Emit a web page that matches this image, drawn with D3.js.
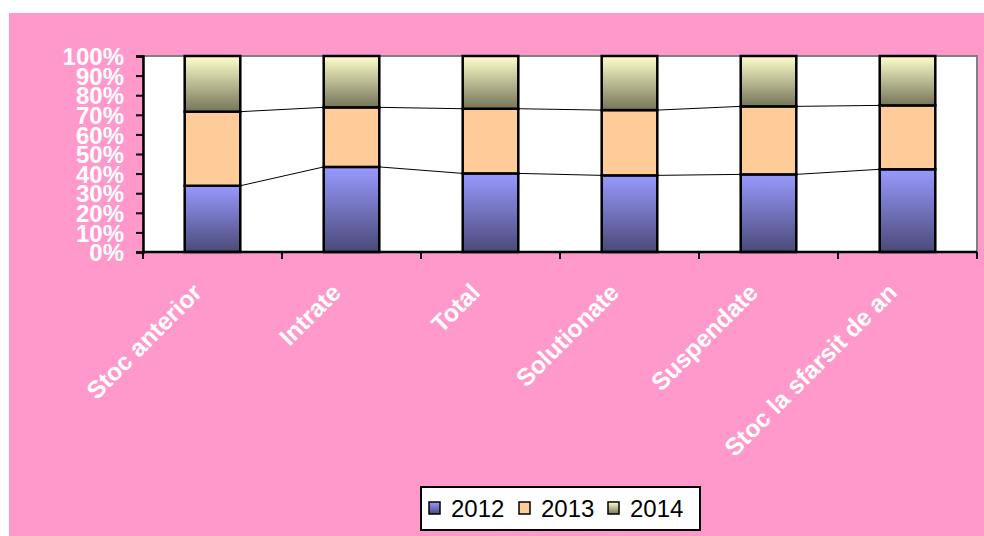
<!DOCTYPE html>
<html>
<head>
<meta charset="utf-8">
<script src="https://cdn.jsdelivr.net/npm/d3@7"></script>
<style>
  body { margin: 0; background: #ffffff; }
  svg { display: block; }
</style>
</head>
<body>
<div id="chart"></div>
<script>
var categories = ["Stoc anterior", "Intrate", "Total", "Solutionate", "Suspendate", "Stoc la sfarsit de an"];
var seriesNames = ["2012", "2013", "2014"];
// share of each year in every category, percent
var values2012 = [33.8, 43.4, 40.1, 39.1, 39.6, 42.2];
var values2013 = [37.8, 30.4, 33.0, 33.3, 34.7, 32.6];
var values2014 = [28.4, 26.2, 26.9, 27.6, 25.7, 25.2];
var yTicks = [0, 10, 20, 30, 40, 50, 60, 70, 80, 90, 100];

var width = 984, height = 536;
var marginLeft = 143, marginRight = 7, marginTop = 56, marginBottom = 284;
var plotWidth = width - marginLeft - marginRight;
var plotHeight = height - marginTop - marginBottom;

var svg = d3.select("#chart").append("svg").attr("width", width).attr("height", height);

var defs = svg.append("defs");
function addGradient(id, top, bottom) {
    var g = defs.append("linearGradient").attr("id", id)
        .attr("x1", "0").attr("y1", "0").attr("x2", "0").attr("y2", "1");
    g.append("stop").attr("offset", "0%").attr("stop-color", top);
    g.append("stop").attr("offset", "100%").attr("stop-color", bottom);
}
addGradient("g2012", "#9999ff", "#4a4a78");
addGradient("g2013", "#ffcc99", "#ffcc99");
addGradient("g2014", "#ffffcc", "#75755a");
var fills = ["url(#g2012)", "url(#g2013)", "url(#g2014)"];

// background
svg.append("rect").attr("x", 9).attr("y", 13).attr("width", width - 9).attr("height", height - 13)
    .attr("fill", "#ff99cc");

var g = svg.append("g").attr("transform", "translate(" + marginLeft + "," + marginTop + ")");

g.append("rect").attr("width", plotWidth).attr("height", plotHeight)
    .attr("fill", "#ffffff").attr("stroke", "#808080").attr("stroke-width", 2);

var xScale = d3.scaleBand().domain(categories).range([0, plotWidth]).paddingInner(0.6).paddingOuter(0.3);
var xTicks = d3.scaleBand().domain(categories).range([0, plotWidth]);
var yScale = d3.scaleLinear().domain([0, 100]).range([plotHeight, 0]);

var rows = categories.map(function(c, i) {
    return { cat: c, "2012": values2012[i], "2013": values2013[i], "2014": values2014[i] };
});
var stacked = d3.stack().keys(seriesNames)(rows);

// series lines between bars
stacked.slice(0, 2).forEach(function(layer) {
    for (var i = 0; i < categories.length - 1; i++) {
        g.append("line")
            .attr("x1", xScale(categories[i]) + xScale.bandwidth())
            .attr("x2", xScale(categories[i + 1]))
            .attr("y1", yScale(layer[i][1]))
            .attr("y2", yScale(layer[i + 1][1]))
            .attr("stroke", "#000").attr("stroke-width", 1);
    }
});

stacked.forEach(function(layer, k) {
    g.append("g").selectAll("rect").data(layer).enter().append("rect")
        .attr("x", function(d, i) { return xScale(categories[i]); })
        .attr("width", xScale.bandwidth())
        .attr("y", function(d) { return yScale(d[1]); })
        .attr("height", function(d) { return yScale(d[0]) - yScale(d[1]); })
        .attr("fill", fills[k])
        .attr("stroke", "#000").attr("stroke-width", 2.5);
});

// y axis
var yAxis = g.append("g")
    .call(d3.axisLeft(yScale).tickValues(yTicks).tickSize(7).tickPadding(12).tickFormat(function(d) { return d + "%"; }));
yAxis.select(".domain").attr("stroke", "#000").attr("stroke-width", 2.5);
yAxis.selectAll(".tick line").attr("stroke", "#000").attr("stroke-width", 2);
yAxis.selectAll("text")
    .attr("fill", "#ffffff")
    .style("font-family", "Arial, 'Liberation Sans', sans-serif")
    .style("font-weight", "bold")
    .style("font-size", "24px")
    .attr("dy", "0.36em");

// x axis
var xAxis = g.append("g").attr("transform", "translate(0," + plotHeight + ")");
xAxis.append("line").attr("x1", 0).attr("x2", plotWidth)
    .attr("stroke", "#000").attr("stroke-width", 2.5);
xAxis.selectAll(".xtick").data(categories.concat(["end"])).enter().append("line")
    .attr("x1", function(d, i) { return i < categories.length ? xTicks(d) : plotWidth; })
    .attr("x2", function(d, i) { return i < categories.length ? xTicks(d) : plotWidth; })
    .attr("y1", 0).attr("y2", 7)
    .attr("stroke", "#000").attr("stroke-width", 2);

xAxis.selectAll(".xlabel").data(categories).enter().append("text")
    .attr("transform", function(d) {
        var cx = xScale(d) + xScale.bandwidth() / 2 - 9;
        return "translate(" + cx + ",42) rotate(-45)";
    })
    .attr("text-anchor", "end")
    .attr("fill", "#ffffff")
    .style("font-family", "Arial, 'Liberation Sans', sans-serif")
    .style("font-weight", "bold")
    .style("font-size", "24.5px")
    .text(function(d) { return d; });

// legend
var legend = svg.append("g").attr("transform", "translate(421,487)");
legend.append("rect").attr("width", 279).attr("height", 43)
    .attr("fill", "#ffffff").attr("stroke", "#000").attr("stroke-width", 2);
var legendX = [8, 98, 187];
seriesNames.forEach(function(s, k) {
    legend.append("rect").attr("x", legendX[k]).attr("y", 15).attr("width", 11).attr("height", 12)
        .attr("fill", fills[k]).attr("stroke", "#000").attr("stroke-width", 1.5);
    legend.append("text").attr("x", legendX[k] + 22).attr("y", 30)
        .attr("fill", "#000")
        .style("font-family", "Arial, 'Liberation Sans', sans-serif")
        .style("font-size", "24px")
        .text(s);
});
</script>
</body>
</html>
